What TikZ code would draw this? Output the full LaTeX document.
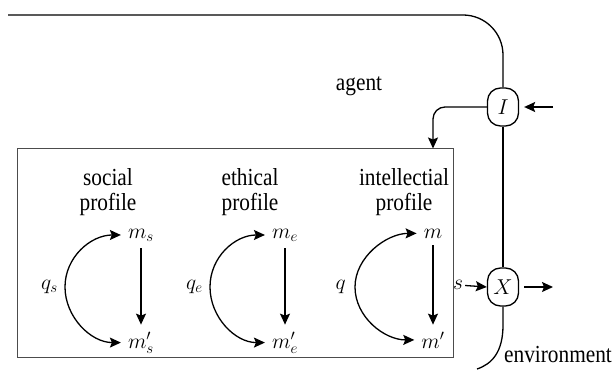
\RequirePackage{fix-cm}
\documentclass[tikz,border=0pt]{standalone}
\usepackage{fontspec}
\newfontfamily\labelfont{Liberation Serif}[FakeStretch=0.87]
\usetikzlibrary{arrows.meta}
\begin{document}
\begin{tikzpicture}[x=1pt,y=-1pt,
  every node/.style={font=\labelfont\fontsize{24.5}{25}\selectfont},
  mathfont/.style={font=\fontsize{21.5}{25}\selectfont},
  line/.style={line width=1.3pt},
  arr/.style={line width=1.3pt,-{Stealth[length=11pt,width=10pt,inset=2pt]}},
  arrboth/.style={line width=1.3pt,{Stealth[length=11pt,width=10pt,inset=2pt]}-{Stealth[length=11pt,width=10pt,inset=2pt]}},
  junction/.style={draw,mathfont,line width=1.3pt,rounded corners=13pt,minimum width=31pt,minimum height=38pt,inner sep=0pt},
  profilebox/.style={draw=black!70,line width=1pt,inner sep=0pt,minimum width=436pt,minimum height=208pt},
  mnode/.style={mathfont,anchor=base,inner sep=7pt},
  title/.style={align=center}]
\useasboundingbox (0,0) rectangle (615,374);

% agent box with the three profiles
\node[profilebox] (agentbox) at (235,253) {};

% junctions
\node[junction] (I) at (503,107) {$I$};
\node[junction] (X) at (503,287) {$X$};

% labels
\node[anchor=base] (agent) at (359,91) {agent};
\node[anchor=base] (env) at (558,362) {environment};
\node[mathfont,inner sep=2pt] (s) at (458,285) {$s$};

% free ends
\coordinate (topstart) at (8,15);
\coordinate (topcorner) at (503,15);
\coordinate (inI) at (553,107);
\coordinate (outX) at (553,287);
\coordinate (Icorner) at (433,107);
\coordinate (envend) at (477,369);

% outer connectors
\draw[line,rounded corners=40pt] (topstart) -- (topcorner) -- (I.north);
\draw[arr,rounded corners=12pt] (I.west) -- (Icorner) -- (Icorner |- agentbox.north);
\draw[arr] (inI) -- ([xshift=5pt]I.east);
\draw[line] (I.south) -- (X.north);
\draw[arr] (s) -- (X.west);
\draw[arr] ([xshift=5pt]X.east) -- (outX);
\draw[line] (X.south) -- (503,325) .. controls (503,352) and (492,364) .. (envend);

% social profile
\node[title] (ts) at (108,192) {social\\profile};
\node[mnode] (ms) at (141,238) {$m_s$};
\node[mnode] (ms2) at (141,348) {$m'_s$};
\coordinate (qsL) at (65,287);
\node[mathfont,anchor=east,inner sep=3pt] (qs) at (61,287) {$q_s$};
\draw[arr] (ms.south) -- (ms.south |- ms2.north);
\draw[arrboth] (ms2.west) .. controls +(-30,0) and +(0,30) .. (qsL) .. controls +(0,-30) and +(-30,0) .. (ms.west);

% ethical profile
\node[title] (te) at (250,192) {ethical\\profile};
\node[mnode] (me) at (285,238) {$m_e$};
\node[mnode] (me2) at (285,348) {$m'_e$};
\coordinate (qeL) at (210,287);
\node[mathfont,anchor=east,inner sep=3pt] (qe) at (206,287) {$q_e$};
\draw[arr] (me.south) -- (me.south |- me2.north);
\draw[arrboth] (me2.west) .. controls +(-30,0) and +(0,30) .. (qeL) .. controls +(0,-30) and +(-30,0) .. (me.west);

% intellectual profile
\node[title] (ti) at (404,192) {intellectial\\profile};
\node[mnode] (mi) at (433,238) {$m$};
\node[mnode] (mi2) at (433,348) {$m'$};
\coordinate (qiL) at (355,287);
\node[mathfont,anchor=east,inner sep=3pt] (qi) at (349,287) {$q$};
\draw[arr] (mi.south) -- (mi.south |- mi2.north);
\draw[arrboth] (mi2.west) .. controls +(-30,0) and +(0,30) .. (qiL) .. controls +(0,-30) and +(-30,0) .. (mi.west);
\end{tikzpicture}
\end{document}
